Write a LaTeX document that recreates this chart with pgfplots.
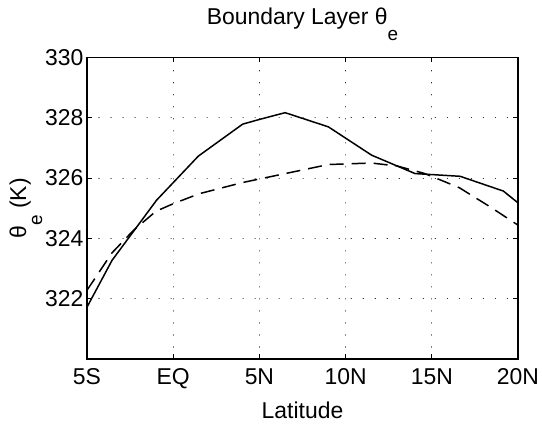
\documentclass[border=0pt]{standalone}
\usepackage{fontspec}
\setmainfont{Liberation Sans}
\usepackage{pgfplots}
\pgfplotsset{compat=1.18}
\newcommand{\sube}{\raisebox{-16bp}{\fontsize{19}{19}\selectfont e}}
\begin{document}
\begin{tikzpicture}
\begin{axis}[
 scale only axis, width=431bp, height=301.5bp,
 xmin=-5, xmax=20, ymin=320, ymax=330,
 xtick={-5,0,5,10,15,20}, xticklabels={5S,EQ,5N,10N,15N,20N},
 ytick={322,324,326,328,330},
 /pgf/number format/assume math mode=true,
 tick label style={font=\fontsize{23}{27}\selectfont},
 xticklabel style={yshift=-6bp},
 label style={font=\fontsize{23}{27}\selectfont},
 title style={font=\fontsize{23}{27}\selectfont, at={(axis description cs:0.5,1)}, anchor=base, yshift=27.5bp},
 title={Boundary Layer θ\sube},
 xlabel={Latitude},
 xlabel style={at={(axis description cs:0.5,0)}, anchor=base, yshift=-59bp},
 ylabel={θ\sube\ (K)},
 ylabel style={at={(axis description cs:-0.1415,0.5)}, anchor=base},
 grid=major,
 major grid style={black, line width=1.1pt, dash pattern=on 0.01pt off 12bp, line cap=round},
 axis line style={line width=1.2pt},
 tick style={black, line width=0.8pt},
 major tick length=5bp,
 tick align=inside,
 clip=true,
]
\addplot[black, line width=1.5pt] coordinates {
(-5,321.72) (-3.55,323.27) (-0.96,325.27) (1.46,326.73) (4.03,327.79) (5.03,327.95) (6.49,328.17) (9.0,327.70) (11.51,326.76) (14.03,326.15) (16.64,326.06) (19.15,325.57) (20,325.18)
};
\addplot[black, line width=1.5pt, dash pattern=on 14bp off 8bp] coordinates {
(-5,322.28) (-3.55,323.52) (-2.3,324.27) (-1.0,324.90) (0,325.15) (1.5,325.48) (4.0,325.85) (6.5,326.15) (9.0,326.45) (11.5,326.50) (13.0,326.40) (14.6,326.15) (16.6,325.68) (18.4,325.04) (20,324.44)
};
\end{axis}
\pgfresetboundingbox
\path[use as bounding box] ([shift={(-87bp,-66bp)}]current axis.south west) rectangle ([shift={(24bp,57.5bp)}]current axis.north east);
\end{tikzpicture}
\end{document}
